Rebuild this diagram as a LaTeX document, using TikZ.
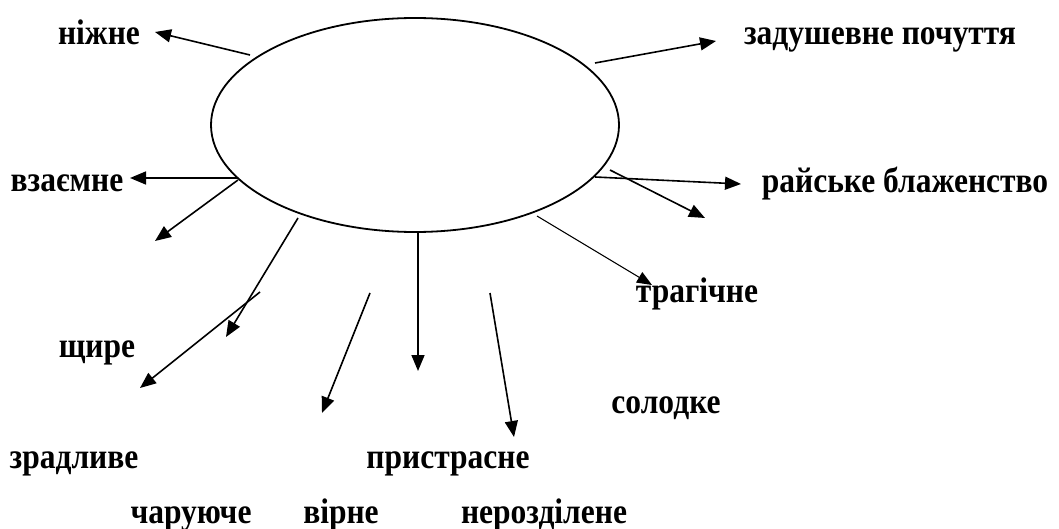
\documentclass[tikz,border=0pt]{standalone}
\usepackage{fontspec}
\usepackage{graphicx}
\setmainfont{Liberation Serif}
\usetikzlibrary{shapes.geometric,arrows.meta}
\newcommand{\tallt}[1]{\scalebox{1}[1.13]{#1}}
\begin{document}
\begin{tikzpicture}[x=1pt,y=-1pt,
  lbl/.style={anchor=base,inner sep=0pt,font=\fontsize{31.5}{36}\selectfont\bfseries},
  arr/.style={line width=1.6pt,-{Triangle[length=16pt,width=13pt]}},
  thinarr/.style={line width=1.1pt,-{Triangle[length=15pt,width=12pt]}}]
\useasboundingbox (0,0) rectangle (1059,529);
\node[draw,ellipse,line width=1.8pt,inner sep=0pt,minimum width=408pt,minimum height=214pt] (e) at (415,125) {};
% labels
\node[lbl] (n1) at (99,45) {\tallt{ніжне}};
\node[lbl] (n2) at (880,45) {\tallt{задушевне почуття}};
\node[lbl] (n3) at (67,192) {\tallt{взаємне}};
\node[lbl] (n4) at (905,193) {\tallt{райське блаженство}};
\node[lbl] (n5) at (697,302) {\tallt{трагічне}};
\node[lbl] (n6) at (97,357) {\tallt{щире}};
\node[lbl] (n7) at (666,413) {\tallt{солодке}};
\node[lbl] (n8) at (74,468) {\tallt{зрадливе}};
\node[lbl] (n9) at (448,468) {\tallt{пристрасне}};
\node[lbl] (n10) at (191,523) {\tallt{чаруюче}};
\node[lbl] (n11) at (341,523) {\tallt{вірне}};
\node[lbl] (n12) at (544,523) {\tallt{нерозділене}};
% arrow endpoints
\coordinate (a1s) at (250,55);  \coordinate (a1e) at (155,32);
\coordinate (a2s) at (238,178); \coordinate (a2e) at (130,178);
\coordinate (a3s) at (238,180); \coordinate (a3e) at (155,241);
\coordinate (a4s) at (298,218); \coordinate (a4e) at (226,337);
\coordinate (a5s) at (260,292); \coordinate (a5e) at (140,388);
\coordinate (a6s) at (370,293); \coordinate (a6e) at (322,413);
\coordinate (a7s) at (418,233); \coordinate (a7e) at (418,371);
\coordinate (a8s) at (490,293); \coordinate (a8e) at (514,437);
\coordinate (a9s) at (537,216); \coordinate (a9e) at (652,285);
\coordinate (a10s) at (595,177); \coordinate (a10e) at (741,184);
\coordinate (a11s) at (610,170); \coordinate (a11e) at (705,218);
\coordinate (a12s) at (595,63);  \coordinate (a12e) at (716,41);
\draw[arr] (a1s) -- (a1e);
\draw[arr] (a2s) -- (a2e);
\draw[arr] (a3s) -- (a3e);
\draw[arr] (a4s) -- (a4e);
\draw[arr] (a5s) -- (a5e);
\draw[arr] (a6s) -- (a6e);
\draw[arr] (a7s) -- (a7e);
\draw[arr] (a8s) -- (a8e);
\draw[thinarr] (a9s) -- (a9e);
\draw[arr] (a10s) -- (a10e);
\draw[arr] (a11s) -- (a11e);
\draw[arr] (a12s) -- (a12e);
\end{tikzpicture}
\end{document}
